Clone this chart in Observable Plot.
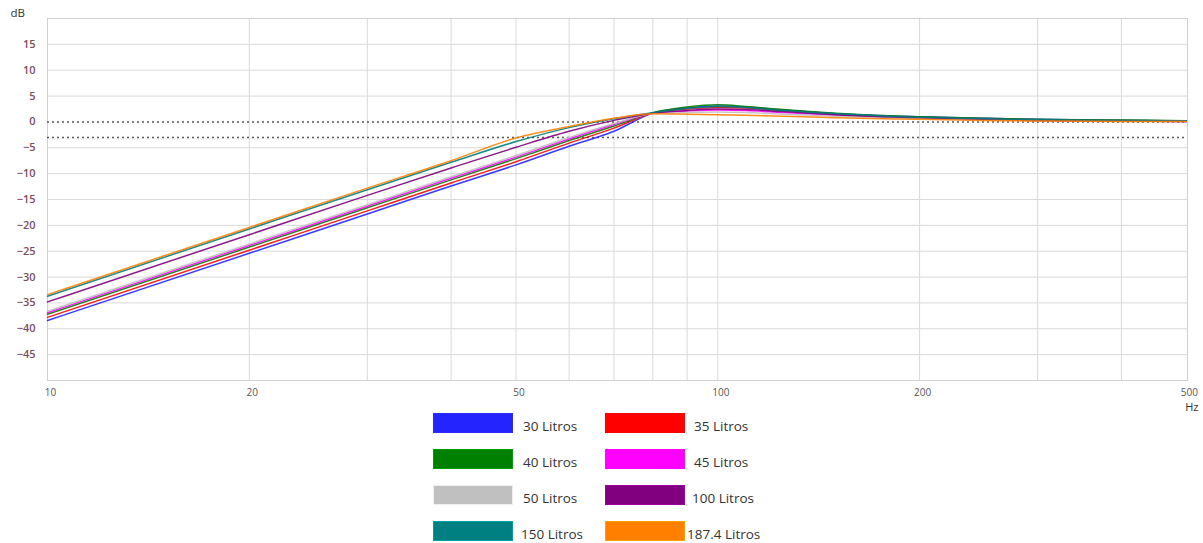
<!DOCTYPE html>
<html>
<head>
<meta charset="utf-8">
<script src="https://cdn.jsdelivr.net/npm/d3@7"></script>
<script src="https://cdn.jsdelivr.net/npm/@observablehq/plot@0.6"></script>
<style>
  html, body { margin: 0; padding: 0; background: #fff; }
  #wrap { position: relative; width: 1203px; height: 543px; font-family: "Open Sans", "Noto Sans", sans-serif; }
  #legend { position: absolute; left: 0; top: 0; width: 1203px; height: 543px; pointer-events: none; }
  .sw { position: absolute; width: 80px; height: 20px; box-sizing: border-box; }
  .lb { position: absolute; font-size: 13.5px; color: #333; line-height: 20px; white-space: nowrap; }
</style>
</head>
<body>
<div id="wrap"><div id="chart"></div><div id="legend"></div></div>
<script>
// Frequencies (Hz)
const freqs = [10, 20, 30, 40, 50, 60, 70, 80, 90, 100, 110, 125, 150, 200, 250, 300, 400, 500];
// Response (dB) per box volume
const s30  = [-38.4, -25.4, -17.8, -12.4, -8.3, -4.7, -1.8, 1.7, 2.7, 3.1, 2.9, 2.3, 1.6, 1.0, 0.7, 0.5, 0.3, 0.2];
const s35  = [-37.8, -24.8, -17.2, -11.8, -7.7, -4.1, -1.2, 1.7, 2.5, 2.8, 2.7, 2.1, 1.5, 0.9, 0.6, 0.4, 0.3, 0.2];
const s40  = [-37.2, -24.2, -16.6, -11.2, -7.1, -3.6, -0.8, 1.8, 2.9, 3.3, 3.0, 2.4, 1.7, 1.0, 0.7, 0.5, 0.35, 0.25];
const s45  = [-36.9, -23.9, -16.3, -10.9, -6.8, -3.3, -0.5, 1.7, 2.1, 2.3, 2.2, 1.8, 1.3, 0.8, 0.5, 0.3, 0.2, 0.1];
const s50  = [-36.6, -23.6, -16.0, -10.6, -6.5, -3.0, -0.3, 1.6, 1.8, 1.9, 1.8, 1.5, 1.1, 0.7, 0.4, 0.3, 0.2, 0.1];
const s100 = [-34.8, -21.8, -14.2, -8.9, -4.9, -1.8, 0.3, 1.7, 2.2, 2.5, 2.4, 2.0, 1.4, 0.8, 0.5, 0.3, 0.2, 0.1];
const s150 = [-33.7, -20.7, -13.1, -7.8, -3.8, -1.1, 0.6, 1.8, 2.6, 3.0, 2.8, 2.2, 1.6, 0.9, 0.6, 0.4, 0.3, 0.2];
const s187 = [-33.4, -20.4, -12.8, -7.5, -3.1, -0.9, 0.7, 1.6, 1.5, 1.4, 1.3, 1.1, 0.8, 0.5, 0.3, 0.2, 0.1, 0.1];

const seriesNames  = ["30 Litros", "35 Litros", "40 Litros", "45 Litros", "50 Litros", "100 Litros", "150 Litros", "187.4 Litros"];
const seriesColors = ["#2424ff", "#ff0000", "#008000", "#ff00ff", "#c0c0c0", "#800080", "#008080", "#ff8000"];
const seriesValues = [s30, s35, s40, s45, s50, s100, s150, s187];

const yTicks = [-45, -40, -35, -30, -25, -20, -15, -10, -5, 0, 5, 10, 15];
const yGrid  = [-45, -40, -35, -30, -25, -20, -15, -10, -5, 5, 10, 15];
const xTicks = [10, 20, 50, 100, 200, 500];
const xGrid  = [20, 30, 40, 50, 60, 70, 80, 90, 100, 200, 300, 400];
const refLines = [0, -3];

// Legend layout order (row-major, two columns)
const legendOrder = ["30 Litros", "35 Litros", "40 Litros", "45 Litros", "50 Litros", "100 Litros", "150 Litros", "187.4 Litros"];

const rows = [];
seriesNames.forEach((name, i) => {
  freqs.forEach((f, j) => rows.push({series: name, color: seriesColors[i], f, db: seriesValues[i][j]}));
});

const chart = Plot.plot({
  width: 1203,
  height: 412,
  marginLeft: 47,
  marginRight: 16,
  marginTop: 18,
  marginBottom: 32,
  style: {fontFamily: "'Open Sans', 'Noto Sans', sans-serif", background: "#fff"},
  x: {type: "log", domain: [10, 502]},
  y: {domain: [-50, 20]},
  marks: [
    Plot.gridY(yGrid, {stroke: "#d9d9d9", strokeOpacity: 1, strokeWidth: 1}),
    Plot.gridX(xGrid, {stroke: "#d9d9d9", strokeOpacity: 1, strokeWidth: 1}),
    Plot.frame({stroke: "#d0d0d0"}),
    Plot.ruleY(refLines, {stroke: "#555", strokeWidth: 1.4, strokeDasharray: "2,3"}),
    Plot.line(rows, {x: "f", y: "db", z: "series", stroke: "color", strokeWidth: 1.5, strokeOpacity: 0.9, curve: "monotone-x"}),
    Plot.axisY(yTicks, {tickSize: 0, tickPadding: 12, fontSize: 11, fontWeight: 600, fill: "#7a4e5e", label: null}),
    Plot.axisX(xTicks, {tickSize: 0, tickPadding: 8, fontSize: 10, fill: "#555", label: null, tickFormat: d => String(d), dx: 3}),
    Plot.text(["dB"], {frameAnchor: "top-left", dx: -37, dy: -2, lineAnchor: "bottom", textAnchor: "start", fontSize: 11.5, fill: "#333"}),
    Plot.text(["Hz"], {frameAnchor: "bottom-right", dx: 11, dy: 30, lineAnchor: "bottom", textAnchor: "end", fontSize: 11, fill: "#333"})
  ]
});
document.getElementById("chart").appendChild(chart);

// HTML legend below the SVG
const legend = document.getElementById("legend");
const colX = [433, 605];
const labX = [523, 694];
const rowY = [413, 449, 485, 521];
legendOrder.forEach((name, k) => {
  const i = seriesNames.indexOf(name);
  const c = k % 2, r = Math.floor(k / 2);
  const sw = document.createElement("div");
  sw.className = "sw";
  sw.style.left = colX[c] + "px";
  sw.style.top = rowY[r] + "px";
  sw.style.background = seriesColors[i];
  sw.style.border = "1px solid " + d3.color(seriesColors[i]).brighter(0.6);
  legend.appendChild(sw);
  const lb = document.createElement("div");
  lb.className = "lb";
  lb.style.left = labX[c] + (name.length > 10 ? -7 : (name.length > 9 ? -2 : 0)) + "px";
  lb.style.top = (rowY[r] + 3) + "px";
  lb.textContent = name;
  legend.appendChild(lb);
});
</script>
</body>
</html>
